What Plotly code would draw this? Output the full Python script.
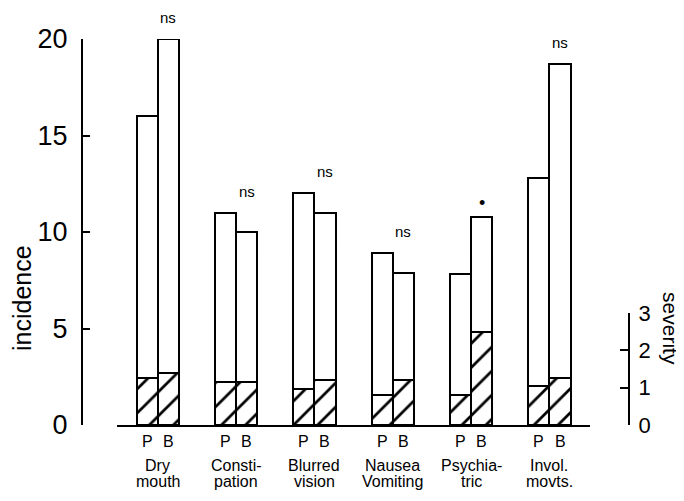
import plotly.graph_objects as go

categories = ["Dry<br>mouth", "Consti-<br>pation", "Blurred<br>vision",
              "Nausea<br>Vomiting", "Psychia-<br>tric", "Invol.<br>movts."]
incidence_P = [16.0, 11.0, 12.0, 8.9, 7.8, 12.8]
incidence_B = [20.0, 10.0, 11.0, 7.9, 10.8, 18.7]
severity_P = [1.25, 1.15, 0.95, 0.8, 0.8, 1.05]
severity_B = [1.4, 1.15, 1.2, 1.2, 2.5, 1.25]
significance = ["ns", "ns", "ns", "ns", "•", "ns"]
incidence_ticks = [0, 5, 10, 15, 20]
severity_ticks = [0, 1, 2, 3]

FONT = "Liberation Sans, Arial, sans-serif"
W = 0.27
xs = list(range(len(categories)))

fig = go.Figure()
line = dict(color="black", width=2)
fig.add_trace(go.Bar(x=xs, y=incidence_P, width=W, offset=-W, xaxis="x", yaxis="y",
                     marker=dict(color="white", line=line), showlegend=False))
fig.add_trace(go.Bar(x=xs, y=incidence_B, width=W, offset=0, xaxis="x", yaxis="y",
                     marker=dict(color="white", line=line), showlegend=False))
pat = dict(shape="/", fgcolor="black", fgopacity=1, bgcolor="white", size=17, solidity=0.16)
fig.add_trace(go.Bar(x=xs, y=severity_P, width=W, offset=-W, xaxis="x", yaxis="y2",
                     marker=dict(color="white", line=line, pattern=pat), showlegend=False))
fig.add_trace(go.Bar(x=xs, y=severity_B, width=W, offset=0, xaxis="x", yaxis="y2",
                     marker=dict(color="white", line=line, pattern=pat), showlegend=False))

ann = []
for i, cat in enumerate(categories):
    ann.append(dict(x=i - W / 2, y=0, xref="x", yref="paper", text="P", showarrow=False,
                    yanchor="top", yshift=-6, font=dict(family=FONT, size=16, color="black")))
    ann.append(dict(x=i + W / 2, y=0, xref="x", yref="paper", text="B", showarrow=False,
                    yanchor="top", yshift=-6, font=dict(family=FONT, size=16, color="black")))
    for k, part in enumerate(cat.split("<br>")):
        ann.append(dict(x=i, y=0, xref="x", yref="paper", text=part, showarrow=False,
                        yanchor="top", yshift=-30 - 16 * k,
                        font=dict(family=FONT, size=16, color="black")))
    top = max(incidence_P[i], incidence_B[i])
    sig = significance[i]
    ann.append(dict(x=i + W / 2, y=top, xref="x", yref="y", text=sig, showarrow=False,
                    yanchor="bottom", yshift=11 if sig == "ns" else 2,
                    font=dict(family=FONT, size=15 if sig == "ns" else 18, color="black")))

ann.append(dict(x=-0.1097, y=0.329, xref="paper", yref="paper", text="incidence",
                xanchor="center", yanchor="middle",
                showarrow=False, textangle=-90, font=dict(family=FONT, size=25, color="black")))
ann.append(dict(x=1.0768, y=0.251, xref="paper", yref="paper", text="severity",
                xanchor="center", yanchor="middle",
                showarrow=False, textangle=90, font=dict(family=FONT, size=21, color="black")))

fig.update_layout(
    width=676, height=493,
    margin=dict(l=74, r=55, t=31, b=76),
    plot_bgcolor="rgba(0,0,0,0)", paper_bgcolor="white",
    barmode="overlay", bargap=0,
    font=dict(family=FONT, color="black"),
    annotations=ann,
    xaxis=dict(domain=[0.064, 0.929], range=[-0.52, 5.52], showticklabels=False, ticks="",
               showgrid=False, zeroline=False, showline=True, linecolor="black", linewidth=2,
               anchor="y"),
    yaxis=dict(anchor="free", position=0, range=[0, 20], tickvals=incidence_ticks,
               ticks="inside", ticklen=7, tickwidth=2, tickcolor="black",
               showline=True, linecolor="black", linewidth=2, showgrid=False, zeroline=False,
               ticklabelstandoff=8, tickfont=dict(family=FONT, size=27, color="black")),
    yaxis2=dict(anchor="free", position=1, side="right", domain=[0, 0.29], range=[0, 3],
                tickvals=severity_ticks, ticks="inside", ticklen=8, tickwidth=2,
                tickcolor="black", showline=True, linecolor="black", linewidth=2,
                showgrid=False, zeroline=False, ticklabelstandoff=4,
                tickfont=dict(family=FONT, size=22, color="black")),
)

fig.write_html("out.html")
